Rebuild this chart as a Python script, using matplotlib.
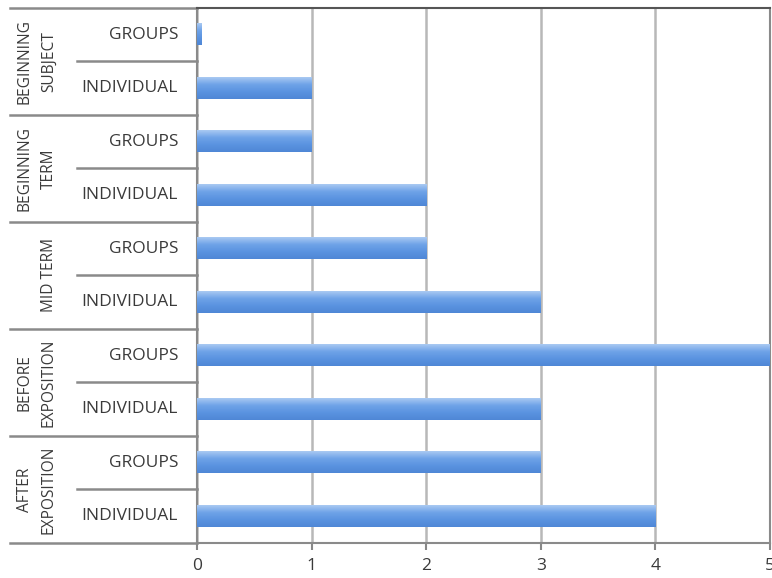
import matplotlib.pyplot as plt
import numpy as np
from matplotlib.colors import LinearSegmentedColormap

# stages (top to bottom) and the two rows inside each stage
stages = [['BEGINNING', 'SUBJECT'], ['BEGINNING', 'TERM'], ['MID TERM'],
          ['BEFORE', 'EXPOSITION'], ['AFTER', 'EXPOSITION']]
rows = ['GROUPS', 'INDIVIDUAL']
groups_vals = [0.04, 1, 2, 5, 3]
individual_vals = [1, 2, 3, 3, 4]

labels = []
values = []
for g, i in zip(groups_vals, individual_vals):
    labels += rows
    values += [g, i]

plt.rcParams['font.family'] = ['Open Sans', 'DejaVu Sans']
fig = plt.figure(figsize=(7.72, 5.78), dpi=100)
ax = fig.add_axes([197/772, 1-543/578, 573/772, 535/578])

# vertical gradient for the bars, light on top, darker at the bottom
cmap = LinearSegmentedColormap.from_list('bar', ['#a9c9f2', '#6fa3e8', '#5a93e0', '#4f87d6'])
grad = np.linspace(0, 1, 64).reshape(-1, 1)
h = 0.4
for y, v in enumerate(values):
    ax.imshow(grad, cmap=cmap, aspect='auto', extent=(0, v, y+h/2, y-h/2),
              interpolation='bilinear', zorder=3)

fs = 12.5
fs_stage = 11.2
txt = '#3a3a3a'
ax.set_xlim(0, 5)
ax.set_ylim(len(values)-0.5, -0.5)
ax.set_xticks(range(6))
ax.set_yticks([])
ax.grid(axis='x', color='#b8b8b8', linewidth=1.8, zorder=1)
ax.tick_params(axis='x', length=5, width=1.5, color='#888888', labelsize=fs,
               labelcolor=txt, pad=6)
for s in ax.spines.values():
    s.set_color('#8a8a8a')
    s.set_linewidth(1.5)
ax.spines['top'].set_color('#555555')

# category labels on the left
def px(x):
    return (x-197)/573*5

for y, lab in enumerate(labels):
    ax.text(px(178), y, lab, ha='right', va='center', fontsize=fs,
            color=txt, clip_on=False)

for k, st in enumerate(stages):
    yc = 2*k + 0.5
    if len(st) == 2:
        ax.text(px(25), yc, st[0], rotation=90, ha='center', va='center',
                fontsize=fs_stage, color=txt, clip_on=False)
    ax.text(px(49), yc, st[-1], rotation=90, ha='center', va='center',
            fontsize=fs_stage, color=txt, clip_on=False)
    # separators between stages and between the rows of a stage
    ax.plot([px(10), 0], [2*k-0.5]*2, color='#8a8a8a', lw=1.8, clip_on=False)
    ax.plot([px(77), 0], [2*k+0.5]*2, color='#8a8a8a', lw=1.8, clip_on=False)
ax.plot([px(10), 0], [9.5]*2, color='#8a8a8a', lw=1.8, clip_on=False)

plt.savefig('out.png', dpi=100)
